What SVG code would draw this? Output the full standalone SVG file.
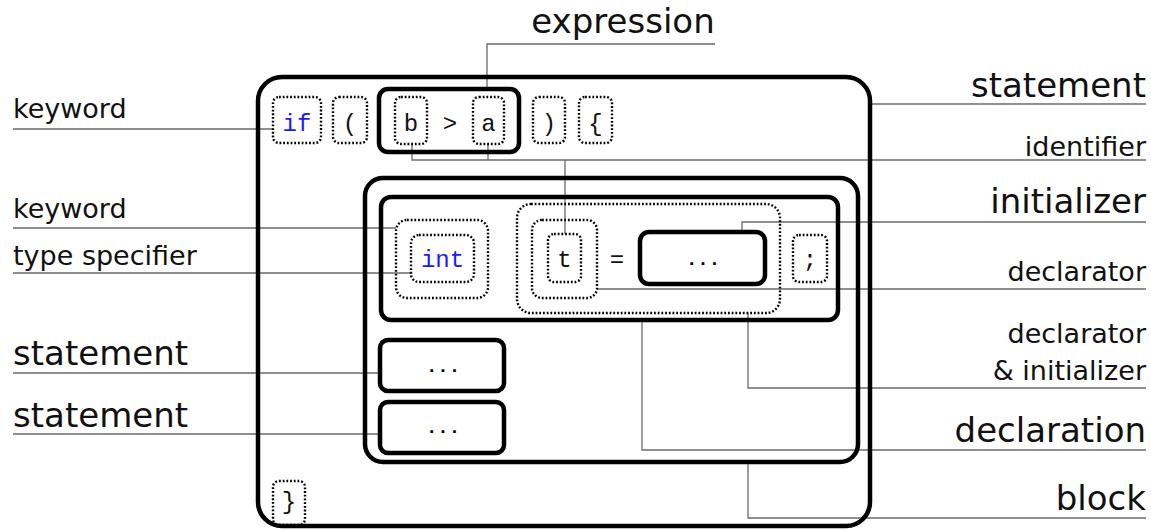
<svg xmlns="http://www.w3.org/2000/svg" width="1151" height="530" viewBox="0 0 1151 530">
  <style>
    .solid { fill: none; stroke: #000; stroke-width: 4.5; }
    .dotted { fill: none; stroke: #000; stroke-width: 2.4; stroke-dasharray: 1.8 1.9; }
    .code { font-family: "Liberation Mono", "DejaVu Sans Mono", monospace; font-size: 24px; fill: #111; text-anchor: middle; }
    .kw { fill: #1a1aff; }
    .dots { font-family: "Liberation Mono", "DejaVu Sans Mono", monospace; font-size: 19px; font-weight: bold; fill: #000; text-anchor: middle; }
    .lbl { font-family: "DejaVu Sans", "Liberation Sans", sans-serif; fill: #111; }
    .big { font-size: 34px; }
    .small { font-size: 27px; }
    .end { text-anchor: end; }
    .conn { fill: none; stroke: #6a6a6a; stroke-width: 1.3; }
  </style>

  <!-- leader lines from labels to the syntax parts -->
  <g id="connectors" class="conn">
    <path d="M715,44 H487 V89"/>
    <path d="M872,104 H1146"/>
    <path d="M412,144 V160 H1146"/>
    <path d="M488,144 V160"/>
    <path d="M565,160 V234"/>
    <path d="M13,129 H273"/>
    <path d="M13,228 H396"/>
    <path d="M13,273 H411"/>
    <path d="M1146,222 H742 V232"/>
    <path d="M597,289 H1146"/>
    <path d="M1146,388 H748 V313"/>
    <path d="M1146,450 H642 V320"/>
    <path d="M1146,518 H748 V462"/>
    <path d="M13,373 H380"/>
    <path d="M13,434 H380"/>
  </g>

  <!-- if statement -->
  <g id="if-statement">
    <rect class="solid" x="258" y="77" width="612" height="449" rx="24"/>
  </g>

  <g id="tok-if">
    <rect class="dotted" x="273" y="97" width="48" height="46" rx="6"/>
    <text class="code kw" x="297" y="131">if</text>
  </g>
  <g id="tok-lparen">
    <rect class="dotted" x="333" y="97" width="34" height="46" rx="6"/>
    <text class="code" x="350" y="131">(</text>
  </g>
  <g id="expression">
    <rect class="solid" x="379" y="89" width="140" height="63" rx="9"/>
    <text class="code" x="450" y="131">&gt;</text>
  </g>
  <g id="id-b">
    <rect class="dotted" x="395" y="97" width="32" height="47" rx="6"/>
    <text class="code" x="411" y="131">b</text>
  </g>
  <g id="id-a">
    <rect class="dotted" x="473" y="97" width="31" height="47" rx="6"/>
    <text class="code" x="488.5" y="131">a</text>
  </g>
  <g id="tok-rparen">
    <rect class="dotted" x="533" y="97" width="32" height="46" rx="6"/>
    <text class="code" x="549" y="131">)</text>
  </g>
  <g id="tok-lbrace">
    <rect class="dotted" x="579" y="97" width="33" height="46" rx="6"/>
    <text class="code" x="595.5" y="131">{</text>
  </g>

  <!-- compound block -->
  <g id="block">
    <rect class="solid" x="365" y="178" width="493" height="284" rx="18"/>
  </g>

  <g id="declaration">
    <rect class="solid" x="381" y="197" width="457" height="123" rx="10"/>
  </g>
  <g id="type-keyword">
    <rect class="dotted" x="396" y="220" width="92" height="78" rx="11"/>
  </g>
  <g id="type-specifier">
    <rect class="dotted" x="411" y="235" width="63" height="47" rx="8"/>
    <text class="code kw" x="442.5" y="267">int</text>
  </g>
  <g id="init-declarator">
    <rect class="dotted" x="517" y="204" width="263" height="109" rx="14"/>
    <text class="code" x="617" y="267">=</text>
  </g>
  <g id="declarator">
    <rect class="dotted" x="532" y="220" width="65" height="78" rx="10"/>
  </g>
  <g id="id-t">
    <rect class="dotted" x="548" y="234" width="33" height="48" rx="6"/>
    <text class="code" x="564.5" y="267">t</text>
  </g>
  <g id="initializer">
    <rect class="solid" x="640" y="232" width="125" height="52" rx="9"/>
    <text class="dots" x="703" y="265">...</text>
  </g>
  <g id="tok-semicolon">
    <rect class="dotted" x="793" y="235" width="34" height="47" rx="6"/>
    <text class="code" x="810" y="267">;</text>
  </g>

  <g id="statement-1">
    <rect class="solid" x="380" y="340" width="124" height="51" rx="8"/>
    <text class="dots" x="443" y="372">...</text>
  </g>
  <g id="statement-2">
    <rect class="solid" x="380" y="402" width="124" height="51" rx="8"/>
    <text class="dots" x="443" y="433">...</text>
  </g>

  <g id="tok-rbrace">
    <rect class="dotted" x="273" y="481" width="32" height="44" rx="6"/>
    <text class="code" x="289" y="509">}</text>
  </g>

  <!-- labels -->
  <g id="labels" class="lbl">
    <text class="big" x="623" y="33" text-anchor="middle">expression</text>
    <text class="small" x="13" y="118">keyword</text>
    <text class="small" x="13" y="218">keyword</text>
    <text class="small" x="13" y="265">type specifier</text>
    <text class="big" x="13" y="365">statement</text>
    <text class="big" x="13" y="427">statement</text>
    <text class="big end" x="1146" y="97">statement</text>
    <text class="small end" x="1146" y="156">identifier</text>
    <text class="big end" x="1146" y="213">initializer</text>
    <text class="small end" x="1146" y="281">declarator</text>
    <text class="small end" x="1146" y="343">declarator</text>
    <text class="small end" x="1146" y="380">&amp; initializer</text>
    <text class="big end" x="1146" y="442">declaration</text>
    <text class="big end" x="1146" y="510">block</text>
  </g>
</svg>
